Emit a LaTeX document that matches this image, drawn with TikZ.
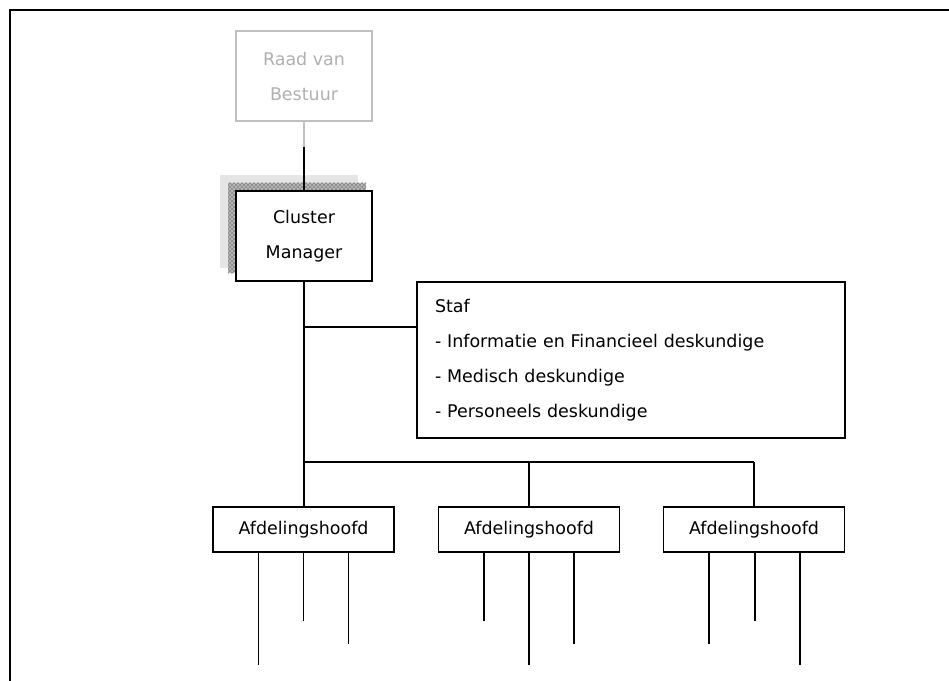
\documentclass[tikz,border=0pt]{standalone}
\usepackage{fontspec}
\setmainfont{DejaVu Sans}
\usetikzlibrary{patterns,calc}
\definecolor{paleline}{RGB}{192,192,192}
\definecolor{paletext}{RGB}{176,176,176}
\begin{document}
\begin{tikzpicture}[x=0.75pt,y=-0.75pt,
  box/.style={draw, line width=1.1pt, rectangle, inner sep=0pt, align=center,
    font=\fontsize{13.1}{26.25}\selectfont},
  unitbox/.style={box, fill=white, minimum width=135.75pt, minimum height=33.75pt},
  link/.style={line width=1.1pt},
  frameline/.style={line width=1.5pt}]
\useasboundingbox (0,0) rectangle (949,681);

% page frame (top and left edges)
\draw[frameline] (10,681) -- (10,10) -- (949,10);

% drop shadow behind the cluster manager box
\fill[black!10] (220,175) rectangle (358,268);
\fill[black!30] (228,183) rectangle (366,273);
\fill[pattern=crosshatch dots, pattern color=black!85] (228,183) rectangle (366,273);

% boxes
\node[box, draw=paleline, text=paletext, minimum width=102pt, minimum height=67.5pt]
  (raad) at (304,76) {Raad van\\Bestuur};
\node[box, fill=white, minimum width=102pt, minimum height=67.5pt]
  (cm) at (304,236) {Cluster\\Manager};
\node[box, minimum width=321pt, minimum height=117pt, text width=294pt, align=left]
  (staf) at (631,360) {Staf\\- Informatie en Financieel deskundige\\- Medisch deskundige\\- Personeels deskundige};
\node[unitbox] (a1) at (303.5,529.5) {Afdelingshoofd};
\node[unitbox] (a2) at (529,529.5) {Afdelingshoofd};
\node[unitbox] (a3) at (754,529.5) {Afdelingshoofd};

% connector from the board to the cluster manager
\coordinate (tone) at (304,147);
\draw[link, draw=paleline] (raad.south) -- (tone);
\draw[link] (tone) -- (cm.north);

% main trunk, staff branch and department bus
\coordinate (stafjoin) at (304,327);
\coordinate (busL) at (304,462);
\coordinate (busM) at (529,462);
\coordinate (busR) at (754,462);
\draw[link] (cm.south) -- (busL) -- (busR);
\draw[link] (stafjoin) -- (stafjoin -| staf.west);
\draw[link] (busL) -- (busL |- a1.north);
\draw[link] (busM) -- (a2.north);
\draw[link] (busR) -- (a3.north);

% lines below the department heads
\foreach \n/\dx/\len in {a1/-45/112, a1/0/68, a1/45/91,
                         a2/-45/68, a2/0/112, a2/45/91,
                         a3/-45/91, a3/1/68, a3/46/112}{
  \draw[link] ($(\n.south)+(\dx,0)$) -- ++(0,\len);
}
\end{tikzpicture}
\end{document}
